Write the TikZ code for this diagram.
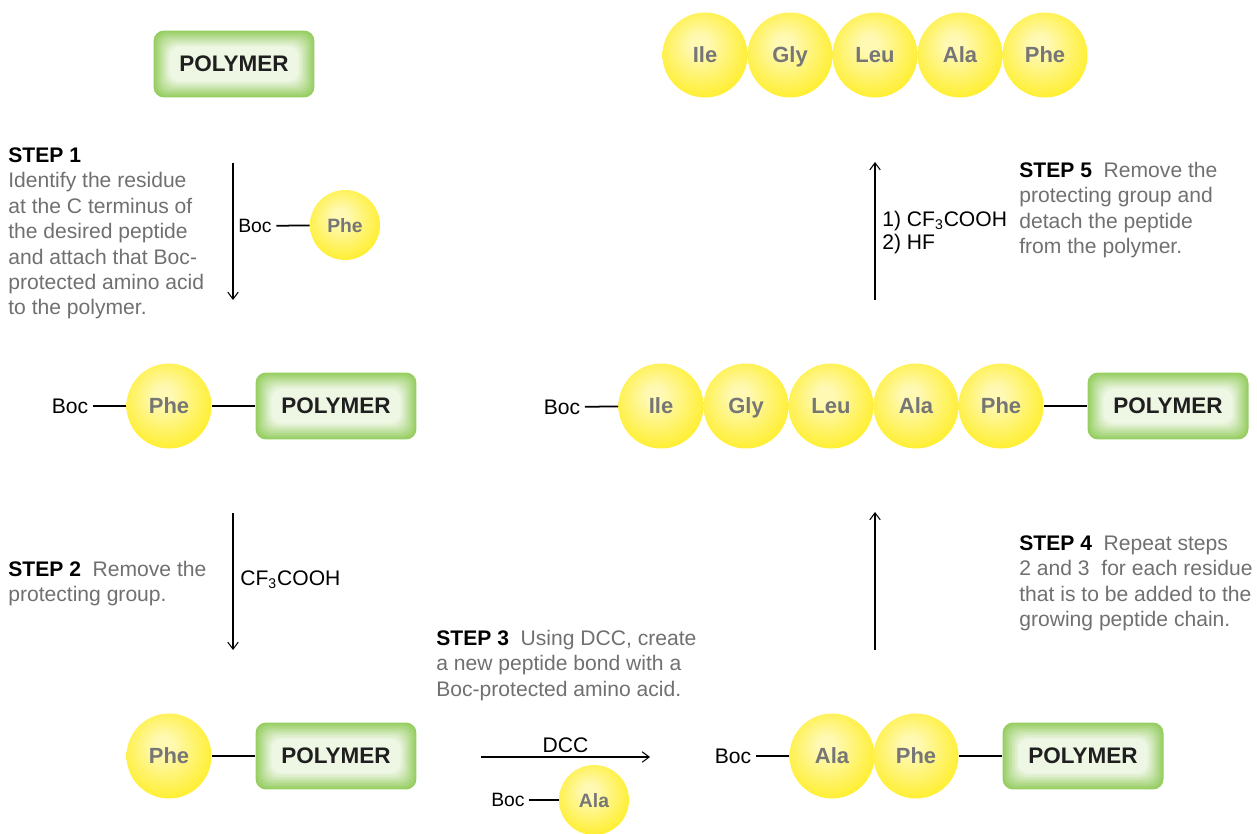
\documentclass[tikz,border=0pt]{standalone}
\usepackage{fontspec}
\setmainfont{Liberation Sans}
\usetikzlibrary{arrows.meta}

\definecolor{ballin}{RGB}{255,249,180}
\definecolor{ballmid}{RGB}{255,238,40}
\definecolor{ballout}{RGB}{255,232,0}
\definecolor{resgray}{RGB}{118,118,118}
\definecolor{txtgray}{RGB}{112,112,112}
\definecolor{polygreen}{RGB}{150,206,98}
\definecolor{polylight}{RGB}{238,246,228}
\pgfdeclareradialshading{resball}{\pgfpoint{-4bp}{7bp}}{color(0bp)=(ballin); color(5bp)=(ballin); color(30bp)=(ballmid); color(50bp)=(ballout)}

\tikzset{
  res/.style={circle, inner sep=0pt, minimum size=1.7cm, shade, shading=resball,
    text height=9pt, text depth=0pt,
    font=\fontsize{12.5}{14}\selectfont\bfseries, text=resgray},
  ressmall/.style={res, minimum size=1.4cm, text height=8pt, font=\fontsize{11}{13}\selectfont\bfseries},
  polymer/.style={rectangle, rounded corners=6pt, minimum width=3.22cm, minimum height=1.34cm,
    inner sep=0pt, fill=polygreen, font=\fontsize{12.8}{14}\selectfont\bfseries, text=black!88,
    path picture={
      \foreach \k [evaluate=\k as \d using 0.9*\k, evaluate=\k as \pc using 100-10*\k] in {1,...,10}
        \fill[polygreen!\pc!polylight, rounded corners=6pt]
          ([shift={(\d pt,\d pt)}]path picture bounding box.south west) rectangle
          ([shift={(-\d pt,-\d pt)}]path picture bounding box.north east);
    }},
  boc/.style={inner sep=2.5pt},
  bocsmall/.style={boc, font=\fontsize{11}{13}\selectfont},
  stepnote/.style={anchor=base west, inner sep=0pt, align=left, text=txtgray},
  reagent/.style={anchor=base west, inner sep=0pt, align=left, font=\fontsize{12}{13.6}\selectfont},
  bond/.style={line width=1pt},
  rxn/.style={line width=0.6pt, -{Straight Barb[length=4pt,width=6pt]}}
}

\begin{document}
\begin{tikzpicture}[x=0.02cm, y=-0.02cm, font=\fontsize{12}{14.5}\selectfont]
\useasboundingbox (0,0) rectangle (1257,834);

% step 1 (multi-line notes sit on the baseline of their last line)
\node[polymer] (poly0) at (234,64) {POLYMER};
\node[stepnote] (note1) at (8,315) {\textcolor{black}{\bfseries STEP 1}\\Identify the residue\\at the C terminus of\\the desired peptide\\and attach that Boc-\\protected amino acid\\to the polymer.};
\coordinate (s1a) at (233,163); \coordinate (s1b) at (233,300);
\draw[rxn] (s1a) -- (s1b);
\node[bocsmall] (boc1) at (255,226) {Boc};
\node[ressmall] (phe0) at (345,225) {Phe};
\draw[bond] (boc1) -- (phe0);

% Boc-Phe on the polymer
\node[boc] (boc2) at (70,406) {Boc};
\node[res] (phe1) at (169,406) {Phe};
\node[polymer] (poly1) at (336,406) {POLYMER};
\draw[bond] (boc2) -- (phe1);
\draw[bond] (phe1) -- (poly1);

% step 2
\node[stepnote] (note2) at (8,601.5) {\textcolor{black}{\bfseries STEP 2}~~Remove the\\protecting group.};
\coordinate (s2a) at (233,513); \coordinate (s2b) at (233,650);
\draw[rxn] (s2a) -- (s2b);
\node[reagent] (tfa1) at (240,585) {CF\textsubscript{3}COOH};

\node[res] (phe2) at (169,756) {Phe};
\node[polymer] (poly2) at (336,756) {POLYMER};
\draw[bond] (phe2) -- (poly2);

% step 3
\node[stepnote] (note3) at (436,696) {\textcolor{black}{\bfseries STEP 3}~~Using DCC, create\\a new peptide bond with a\\Boc-protected amino acid.};
\coordinate (s3a) at (481,757); \coordinate (s3b) at (650,757);
\draw[rxn] (s3a) -- node[above, inner sep=2pt] (dcc) {DCC} (s3b);
\node[bocsmall] (boc3) at (508,800) {Boc};
\node[ressmall] (ala0) at (594,800) {Ala};
\draw[bond] (boc3) -- (ala0);

\node[boc] (boc4) at (733,756) {Boc};
\node[res] (ala1) at (832,756) {Ala};
\node[res] (phe3) at (916,756) {Phe};
\node[polymer] (poly3) at (1083,756) {POLYMER};
\draw[bond] (boc4) -- (ala1);
\draw[bond] (phe3) -- (poly3);

% step 4
\coordinate (s4a) at (875,650); \coordinate (s4b) at (875,512);
\draw[rxn] (s4a) -- (s4b);
\node[stepnote] (note4) at (1019,626.5) {\textcolor{black}{\bfseries STEP 4}~~Repeat steps\\2 and 3~ for each residue\\that is to be added to the\\growing peptide chain.};

\node[boc] (boc5) at (562,407) {Boc};
\node[res] (ile1) at (661,406) {Ile};
\node[res] (gly1) at (746,406) {Gly};
\node[res] (leu1) at (831,406) {Leu};
\node[res] (ala2) at (916,406) {Ala};
\node[res] (phe4) at (1001,406) {Phe};
\node[polymer] (poly4) at (1168,406) {POLYMER};
\draw[bond] (boc5) -- (ile1);
\draw[bond] (phe4) -- (poly4);

% step 5
\coordinate (s5a) at (875,300); \coordinate (s5b) at (875,162);
\draw[rxn] (s5a) -- (s5b);
\node[reagent] (tfa2) at (882,250) {1) CF\textsubscript{3}COOH\\2) HF};
\node[stepnote] (note5) at (1019,253.5) {\textcolor{black}{\bfseries STEP 5}~~Remove the\\protecting group and\\detach the peptide\\from the polymer.};

\node[res] (ile0) at (705,55) {Ile};
\node[res] (gly0) at (790,55) {Gly};
\node[res] (leu0) at (875,55) {Leu};
\node[res] (ala3) at (960,55) {Ala};
\node[res] (phe5) at (1045,55) {Phe};
\end{tikzpicture}
\end{document}
